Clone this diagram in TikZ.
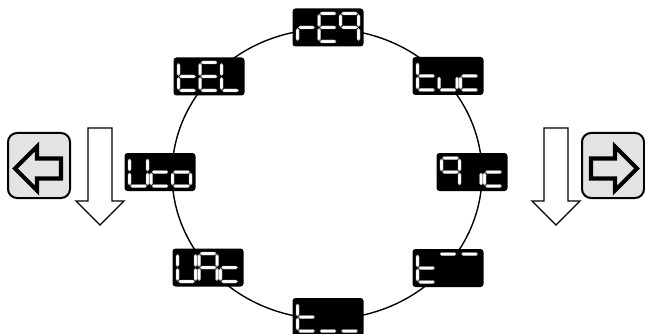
\documentclass[tikz,border=0pt]{standalone}
\tikzset{every picture/.style={line width=0.75pt}}
\tikzset{
  lcd/.style={rectangle, rounded corners=3pt, fill=black, minimum width=71pt, minimum height=38pt, inner sep=0pt},
  seg/.style={fill=white, draw=gray!60, line width=0.4pt},
  ring/.style={line width=1.4pt},
  hollow/.style={line width=1.3pt, fill=white},
  keybox/.style={rectangle, rounded corners=9pt, draw, line width=2pt, fill=gray!22, minimum width=62pt, minimum height=65pt, inner sep=0pt},
  keyarrow/.style={line width=4.2pt, fill=gray!22, line join=miter}
}
\newcommand\hseg[2]{\path[seg] #1 -- ++(1.5,-1.5) -- ++(#2-3,0) -- ++(1.5,1.5) -- ++(-1.5,1.5) -- ++(3-#2,0) -- cycle;}
\newcommand\vseg[2]{\path[seg] #1 -- ++(1.5,1.5) -- ++(0,#2-3) -- ++(-1.5,1.5) -- ++(-1.5,-1.5) -- ++(0,3-#2) -- cycle;}
\newcommand\lcddigit[2]{%
  \begin{scope}[shift={#1}]
    \foreach \s in {#2}{%
      \if a\s \hseg{(1,0)}{16}\fi
      \if b\s \vseg{(18,1)}{12}\fi
      \if c\s \vseg{(18,15)}{12}\fi
      \if d\s \hseg{(1,28)}{16}\fi
      \if e\s \vseg{(0,15)}{12}\fi
      \if f\s \vseg{(0,1)}{12}\fi
      \if g\s \hseg{(1,14)}{16}\fi
    }
  \end{scope}}
\newcommand\lcdword[4]{%
  \begin{scope}[shift={(#1.center)}]
    \lcddigit{(-30.5,-14)}{#2}
    \lcddigit{(-9,-14)}{#3}
    \lcddigit{(12.5,-14)}{#4}
  \end{scope}}

\begin{document}
\begin{tikzpicture}[x=1pt, y=-1pt]
        \useasboundingbox (0,0) rectangle (645,334);
        \coordinate (hub) at (327,174);
        \draw[ring] (hub) ellipse [x radius=155, y radius=145];
        \node[lcd] (reg) at (328,27.5) {};
        \node[lcd] (tel) at (209,76.5) {};
        \node[lcd] (tuc) at (448,76) {};
        \node[lcd] (uco) at (160,172) {};
        \node[lcd] (nineic) at (472,172) {};
        \node[lcd] (vac) at (208,267.5) {};
        \node[lcd] (tbar) at (448,268) {};
        \node[lcd] (tlow) at (328,317) {};
        \lcdword{reg}{e,g}{a,d,e,f,g}{a,b,c,f,g}
        \lcdword{tel}{d,e,f,g}{a,d,e,f,g}{d,e,f}
        \lcdword{tuc}{d,e,f,g}{c,d,e}{d,e,g}
        \lcdword{uco}{b,c,d,e,f}{d,e,g}{c,d,e,g}
        \lcdword{nineic}{a,b,c,f,g}{c}{d,e,g}
        \lcdword{vac}{b,c,d,e,f}{a,b,c,e,f,g}{d,e,g}
        \lcdword{tbar}{d,e,f,g}{a}{a}
        \lcdword{tlow}{d,e,f,g}{d}{d}
        % keys with scroll direction
        \node[keybox] (lkey) at (39,165.5) {};
        \node[keybox] (rkey) at (613,165.5) {};
        \begin{scope}[shift={(lkey.center)}]
            \draw[keyarrow] (-24,3) -- (-2,-19) -- (-2,-7) -- (22,-7) -- (22,13) -- (-2,13) -- (-2,25) -- cycle;
        \end{scope}
        \begin{scope}[shift={(rkey.center)}, xscale=-1]
            \draw[keyarrow] (-24,3) -- (-2,-19) -- (-2,-7) -- (22,-7) -- (22,13) -- (-2,13) -- (-2,25) -- cycle;
        \end{scope}
        \draw[hollow] (88,128) -- (112,128) -- (112,201) -- (124,201) -- (100,225) -- (76,201) -- (88,201) -- cycle;
        \draw[hollow] (544,128) -- (568,128) -- (568,201) -- (580,201) -- (556,225) -- (532,201) -- (544,201) -- cycle;
\end{tikzpicture}
\end{document}
